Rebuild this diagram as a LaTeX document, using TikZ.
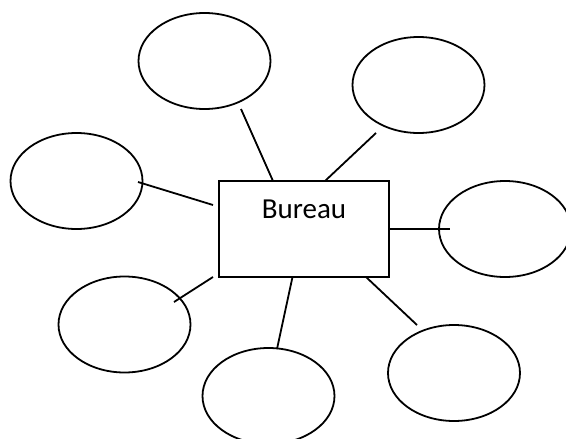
\documentclass[tikz,border=0pt]{standalone}
\usepackage{fontspec}
\setmainfont{Carlito}
\usetikzlibrary{shapes.geometric}
\usetikzlibrary{positioning}
\tikzset{office/.style = {draw, rectangle, line width = 1.8pt,
                          minimum width = 170pt, minimum height = 96pt}}
\tikzset{bubble/.style = {draw, ellipse, line width = 1.8pt, inner sep = 0,
                          minimum width = 132pt, minimum height = 96pt}}
\tikzset{spoke/.style = {line width = 1.8pt}}

\begin{document}
\begin{tikzpicture}[x=1pt, y=-1pt]
    \useasboundingbox (0, 0) rectangle (566, 439);
    \node [office] (bureau) at (304, 229) {};
    \node [anchor = north, font = \fontsize{29}{34}\selectfont] (name)
      at ([yshift = -16pt]bureau.north) {Bureau};
    % the seven empty ellipses round the office
    \foreach \n/\x/\y in {n1/204.5/61, n2/418.5/85, w1/76.5/181, e1/505/229,
                          w2/124.5/324.5, s1/268.5/396, s2/454/373} {
      \node [bubble] (\n) at (\x, \y) {};
    }
    % loose ends of the spokes
    \coordinate (n1a) at (241, 109);   \coordinate (n1b) at (273, 181);
    \coordinate (n2a) at (376, 133);   \coordinate (n2b) at (325, 181);
    \coordinate (w1a) at (138, 182);   \coordinate (w1b) at (213, 205);
    \coordinate (e1a) at (389, 229);   \coordinate (e1b) at (450, 229);
    \coordinate (w2a) at (213, 277);   \coordinate (w2b) at (174, 302);
    \coordinate (s1a) at (292.5, 277); \coordinate (s1b) at (277, 349);
    \coordinate (s2a) at (366, 277);   \coordinate (s2b) at (417, 325);
    \foreach \n in {n1, n2, w1, e1, w2, s1, s2} {
      \draw [spoke] (\n a) -- (\n b);
    }
  \end{tikzpicture}
\end{document}
